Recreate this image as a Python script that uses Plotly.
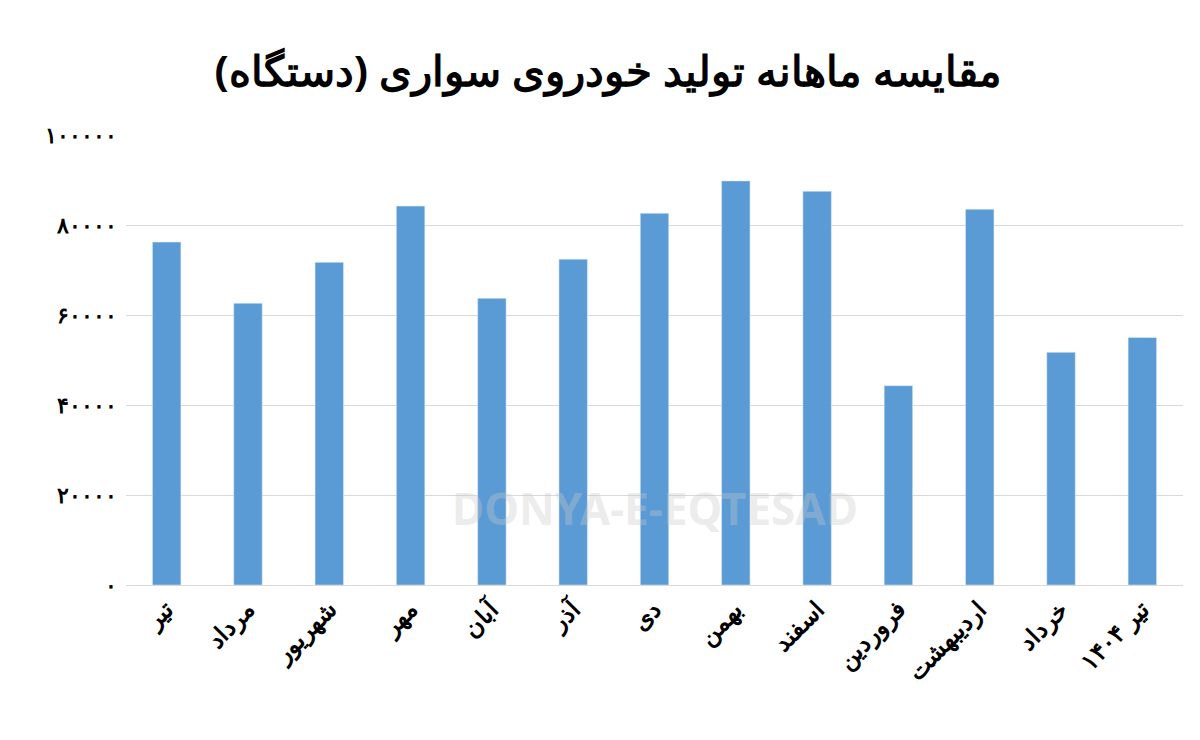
import plotly.graph_objects as go

months = ["تیر", "مرداد", "شهریور", "مهر", "آبان", "آذر", "دی", "بهمن", "اسفند", "فروردین", "اردیبهشت", "خرداد", "تیر ۱۴۰۴"]
values = [76200, 62600, 71700, 84200, 63700, 72400, 82600, 89800, 87500, 44300, 83500, 51700, 55000]
tick_vals = [0, 20000, 40000, 60000, 80000, 100000]
tick_text = ["۰", "۲۰۰۰۰", "۴۰۰۰۰", "۶۰۰۰۰", "۸۰۰۰۰", "۱۰۰۰۰۰"]

fig = go.Figure(go.Bar(x=months, y=values, marker_color="#5B9BD5", width=0.35))
fig.update_layout(
    width=1200, height=740, plot_bgcolor="white", paper_bgcolor="white",
    margin=dict(l=118, r=25, t=127, b=163),
    title=dict(text="<b>مقایسه ماهانه تولید خودروی سواری (دستگاه)</b>", x=0.5, y=0.935,
               font=dict(family="Noto Sans", size=42, color="black")),
    font=dict(family="Noto Sans", color="black"),
    showlegend=False,
)
fig.update_yaxes(range=[0, 100000], tickvals=tick_vals, ticktext=tick_text,
                 gridcolor="#D9D9D9", zeroline=False, showline=False,
                 tickfont=dict(size=22, family="Noto Sans", weight="bold"), ticklabelstandoff=8)
fig.update_xaxes(tickangle=-45, tickfont=dict(size=24, family="Noto Sans", weight="bold"), showline=True,
                 linecolor="#D9D9D9", ticks="")
fig.add_annotation(text="<b>DONYA-E-EQTESAD</b>", x=0.5, y=0.1, xref="paper", yref="paper",
                   showarrow=False, font=dict(size=44, color="rgba(200,200,200,0.35)"))
fig.write_html("out.html")
